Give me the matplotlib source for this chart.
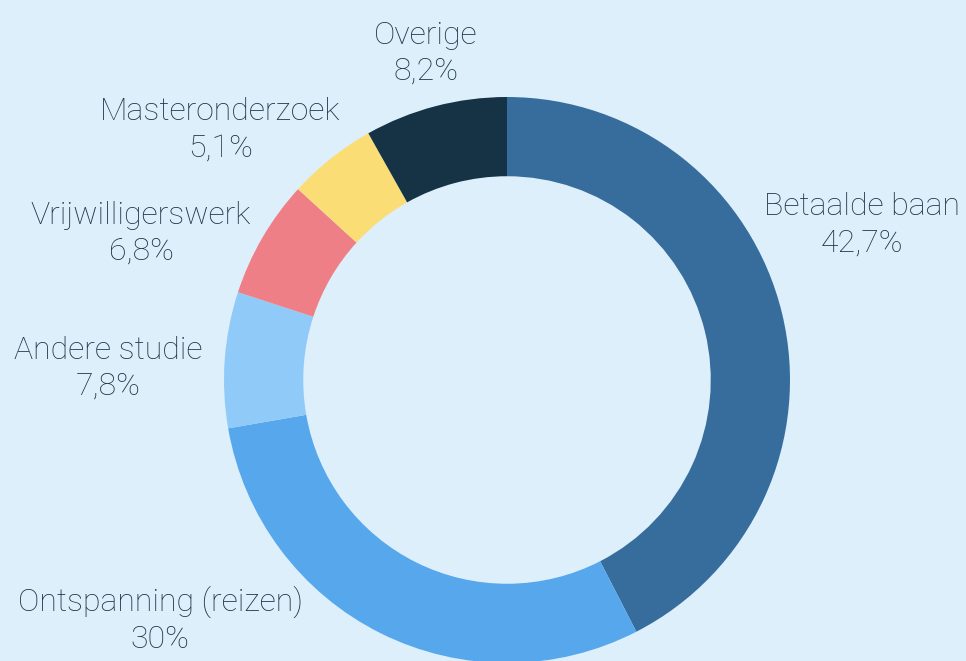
import numpy as np
import matplotlib.pyplot as plt

labels = ['Betaalde baan', 'Ontspanning (reizen)', 'Andere studie',
          'Vrijwilligerswerk', 'Masteronderzoek', 'Overige']
values = [42.7, 30, 7.8, 6.8, 5.1, 8.2]
pct_text = ['42,7%', '30%', '7,8%', '6,8%', '5,1%', '8,2%']
colors = ['#366d9c', '#57a7ec', '#90caf9', '#ef7f87', '#fbdd75', '#163346']

bg = '#ddeffb'
txt_col = '#1b3646'

fig = plt.figure(figsize=(9.66, 6.61), dpi=100, facecolor=bg)
ax = fig.add_axes([0, 0, 1, 1])
ax.set_facecolor(bg)

wedges, _ = ax.pie(values, colors=colors, startangle=90, counterclock=False,
                   radius=1, wedgeprops=dict(width=0.28, linewidth=0))

# label positions: along the wedge middle, then nudged like the original
nudges = [(0.099, 0.269), (-0.695, 0.217), (-0.223, -0.045),
          (-0.265, -0.081), (-0.273, -0.048), (0.014, 0.004)]
for w, lab, p, (dx, dy) in zip(wedges, labels, pct_text, nudges):
    ang = np.deg2rad((w.theta1 + w.theta2) / 2)
    x = 1.19 * np.cos(ang) + dx
    y = 1.19 * np.sin(ang) + dy
    ax.text(x, y, lab + '\n' + p, ha='center', va='center', fontsize=23,
            family='Roboto', fontweight='light', color=txt_col, linespacing=1.3)

ax.set_aspect('equal')
ax.set_xlim(-507 / 283, (966 - 507) / 283)
ax.set_ylim(-(661 - 380) / 283, 380 / 283)
ax.axis('off')

fig.savefig('out.png', dpi=100, facecolor=bg)
